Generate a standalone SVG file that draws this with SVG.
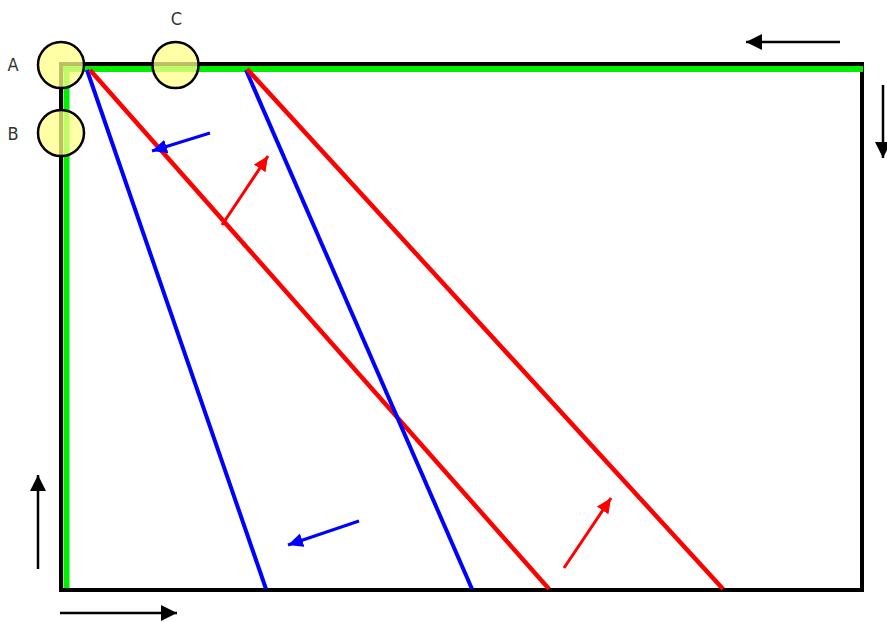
<svg xmlns="http://www.w3.org/2000/svg" width="887" height="622" viewBox="0 0 887 622">
<style>
.lbl{font-family:"DejaVu Sans Condensed","DejaVu Sans","Liberation Sans",sans-serif;font-stretch:condensed;font-size:18px;fill:#333;text-anchor:middle}
.pt{fill:#ffff88;fill-opacity:0.75;stroke:#000;stroke-width:2.5}
.blk{stroke:#000;stroke-width:2.5;fill:none}
.red{stroke:#ff0000;stroke-width:4.5;fill:none}
.blu{stroke:#0000ff;stroke-width:4;fill:none}
.ra{stroke:#ff0000;stroke-width:3;fill:none}
.ba{stroke:#0000ff;stroke-width:3;fill:none}
</style>
<defs>
<marker id="hk" markerUnits="userSpaceOnUse" markerWidth="20" markerHeight="20" refX="16" refY="8" orient="auto"><path d="M0,0 L16,8 L0,16 Z" fill="#000"/></marker>
<marker id="hr" markerUnits="userSpaceOnUse" markerWidth="20" markerHeight="20" refX="15" refY="7" orient="auto"><path d="M0,0 L15,7 L0,14 Z" fill="#ff0000"/></marker>
<marker id="hb" markerUnits="userSpaceOnUse" markerWidth="20" markerHeight="20" refX="15" refY="7" orient="auto"><path d="M0,0 L15,7 L0,14 Z" fill="#0000ff"/></marker>
</defs>
<rect width="887" height="622" fill="#fff"/>
<g id="frame">
<rect x="61" y="64" width="801" height="526" fill="none" stroke="#000" stroke-width="4"/>
<line x1="63" y1="69" x2="863" y2="69" stroke="#00ee00" stroke-width="6"/>
<line x1="66.5" y1="66" x2="66.5" y2="588" stroke="#00ee00" stroke-width="6"/>
</g>
<g id="connectors">
<line class="blu" x1="87" y1="70" x2="266" y2="589"/>
<line class="red" x1="90" y1="70" x2="549" y2="589"/>
<line class="blu" x1="246" y1="70" x2="472" y2="589"/>
<line class="red" x1="247" y1="69" x2="723" y2="589"/>
<line class="ba" x1="210" y1="133" x2="152" y2="151" marker-end="url(#hb)"/>
<line class="ba" x1="359" y1="521" x2="288" y2="545" marker-end="url(#hb)"/>
<line class="ra" x1="222" y1="225" x2="268" y2="156" marker-end="url(#hr)"/>
<line class="ra" x1="564" y1="568" x2="611" y2="498" marker-end="url(#hr)"/>
<line class="blk" x1="840" y1="42" x2="746" y2="42" marker-end="url(#hk)"/>
<line class="blk" x1="883" y1="85" x2="883" y2="158" marker-end="url(#hk)"/>
<line class="blk" x1="38" y1="569" x2="38" y2="475" marker-end="url(#hk)"/>
<line class="blk" x1="60" y1="613" x2="177" y2="613" marker-end="url(#hk)"/>
</g>
<g id="A">
<circle class="pt" cx="61" cy="65" r="23"/>
<text class="lbl" x="13" y="71">A</text>
</g>
<g id="B">
<circle class="pt" cx="61" cy="133" r="23"/>
<text class="lbl" x="13" y="140">B</text>
</g>
<g id="C">
<circle class="pt" cx="175.5" cy="65" r="23"/>
<text class="lbl" x="176.5" y="25">C</text>
</g>
</svg>
